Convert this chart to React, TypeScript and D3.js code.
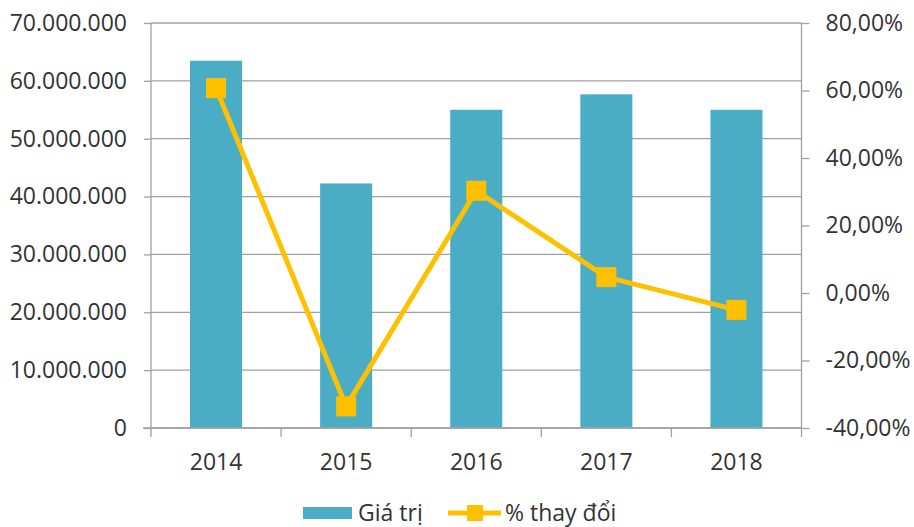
//@ts-nocheck
import { useEffect, useRef } from 'react';
import * as d3 from 'd3';

// chart data
const years = ['2014', '2015', '2016', '2017', '2018'];
const giaTri = [63480000, 42270000, 55000000, 57670000, 55000000];
const thayDoi = [0.607, -0.336, 0.303, 0.047, -0.05];
const leftTicks = [0, 10000000, 20000000, 30000000, 40000000, 50000000, 60000000, 70000000];
const rightTicks = [-0.4, -0.2, 0, 0.2, 0.4, 0.6, 0.8];
const legendLabels = ['Giá trị', '% thay đổi'];

const App = () => {
    const svgRef = useRef();

    useEffect(() => {
        const svg = d3.select(svgRef.current);
        svg.selectAll('*').remove();

        const width = 914;
        const height = 527;
        const left = 151;
        const right = 801.5;
        const top = 23;
        const bottom = 428;
        const font = "'Open Sans', sans-serif";
        const fontSize = '23px';
        const textColor = '#333333';
        const gridColor = '#a0a0a0';
        const barColor = '#4bacc6';
        const lineColor = '#ffc000';

        const x = d3.scaleBand().domain(years).range([left, right]).paddingInner(0.6).paddingOuter(0.3);
        const band = d3.scaleBand().domain(years).range([left, right]);
        const yLeft = d3.scaleLinear().domain([0, 70000000]).range([bottom, top]);
        const yRight = d3.scaleLinear().domain([-0.4, 0.8]).range([bottom, top]);

        // Vietnamese number style: dot for thousands, comma for decimals, plain hyphen
        const fmtLeft = (v) => d3.format(',')(v).replace(/,/g, '.');
        const fmtRight = (v) => d3.format('.2f')(v * 100).replace('.', ',').replace('−', '-') + '%';

        svg.attr('width', width).attr('height', height);

        // gridlines
        svg.append('g')
            .selectAll('line')
            .data(leftTicks)
            .enter()
            .append('line')
            .attr('x1', left)
            .attr('x2', right)
            .attr('y1', d => yLeft(d))
            .attr('y2', d => yLeft(d))
            .attr('stroke', gridColor)
            .attr('stroke-width', 1.3);

        // bars
        svg.append('g')
            .selectAll('rect')
            .data(years)
            .enter()
            .append('rect')
            .attr('x', d => x(d))
            .attr('width', x.bandwidth())
            .attr('y', (d, i) => yLeft(giaTri[i]))
            .attr('height', (d, i) => bottom - yLeft(giaTri[i]))
            .attr('fill', barColor);

        // left axis
        const leftAxis = svg.append('g')
            .attr('transform', `translate(${left},0)`)
            .call(d3.axisLeft(yLeft).tickValues(leftTicks).tickSize(7).tickPadding(17).tickFormat(fmtLeft));

        // right axis
        const rightAxis = svg.append('g')
            .attr('transform', `translate(${right},0)`)
            .call(d3.axisRight(yRight).tickValues(rightTicks).tickSize(8).tickPadding(16).tickFormat(fmtRight));

        // bottom axis, ticks on the band edges
        const bottomAxis = svg.append('g')
            .attr('transform', `translate(0,${bottom})`)
            .call(d3.axisBottom(band).tickSize(0).tickPadding(26));
        bottomAxis.selectAll('.tick')
            .attr('transform', d => `translate(${band(d) + band.bandwidth() / 2},0)`);
        bottomAxis.append('g')
            .selectAll('line')
            .data([...years.map(d => band(d)), right])
            .enter()
            .append('line')
            .attr('x1', d => d)
            .attr('x2', d => d)
            .attr('y1', 0)
            .attr('y2', 9)
            .attr('stroke', gridColor)
            .attr('stroke-width', 1.3);
        bottomAxis.select('.domain').attr('d', `M${left - 8},0H${right}`);

        [leftAxis, rightAxis, bottomAxis].forEach(a => {
            a.selectAll('.domain').attr('stroke', gridColor).attr('stroke-width', 1.3);
            a.selectAll('.tick line').attr('stroke', gridColor).attr('stroke-width', 1.3);
            a.selectAll('text')
                .attr('fill', textColor)
                .style('font-family', font)
                .style('font-size', fontSize);
        });
        leftAxis.select('.domain').attr('d', `M0,${top}V${bottom}`);
        rightAxis.select('.domain').attr('d', `M0,${top}V${bottom}`);

        // line of % change
        const line = d3.line()
            .x((d, i) => band(years[i]) + band.bandwidth() / 2)
            .y(d => yRight(d));

        svg.append('path')
            .datum(thayDoi)
            .attr('d', line)
            .attr('fill', 'none')
            .attr('stroke', lineColor)
            .attr('stroke-width', 5)
            .attr('stroke-linejoin', 'round');

        svg.append('g')
            .selectAll('rect')
            .data(thayDoi)
            .enter()
            .append('rect')
            .attr('x', (d, i) => band(years[i]) + band.bandwidth() / 2 - 10)
            .attr('y', d => yRight(d) - 10)
            .attr('width', 20)
            .attr('height', 20)
            .attr('fill', lineColor);

        // legend, nudged up a little so the descenders stay inside the frame
        const ly = 513;
        const legend = svg.append('g');
        legend.append('rect')
            .attr('x', 303)
            .attr('y', ly - 6)
            .attr('width', 49)
            .attr('height', 12)
            .attr('fill', barColor);
        legend.append('text')
            .attr('x', 358)
            .attr('y', ly + 8)
            .attr('fill', textColor)
            .style('font-family', font)
            .style('font-size', fontSize)
            .text(legendLabels[0]);
        legend.append('line')
            .attr('x1', 448)
            .attr('x2', 501)
            .attr('y1', ly)
            .attr('y2', ly)
            .attr('stroke', lineColor)
            .attr('stroke-width', 5);
        legend.append('rect')
            .attr('x', 467)
            .attr('y', ly - 8)
            .attr('width', 16)
            .attr('height', 16)
            .attr('fill', lineColor);
        legend.append('text')
            .attr('x', 505)
            .attr('y', ly + 8)
            .attr('fill', textColor)
            .style('font-family', font)
            .style('font-size', fontSize)
            .text(legendLabels[1]);
    }, []);

    return (
        <svg ref={svgRef} width={914} height={527} style={{ position: 'absolute', left: 0, top: 0, background: '#fff' }}></svg>
    );
};

export default App;
